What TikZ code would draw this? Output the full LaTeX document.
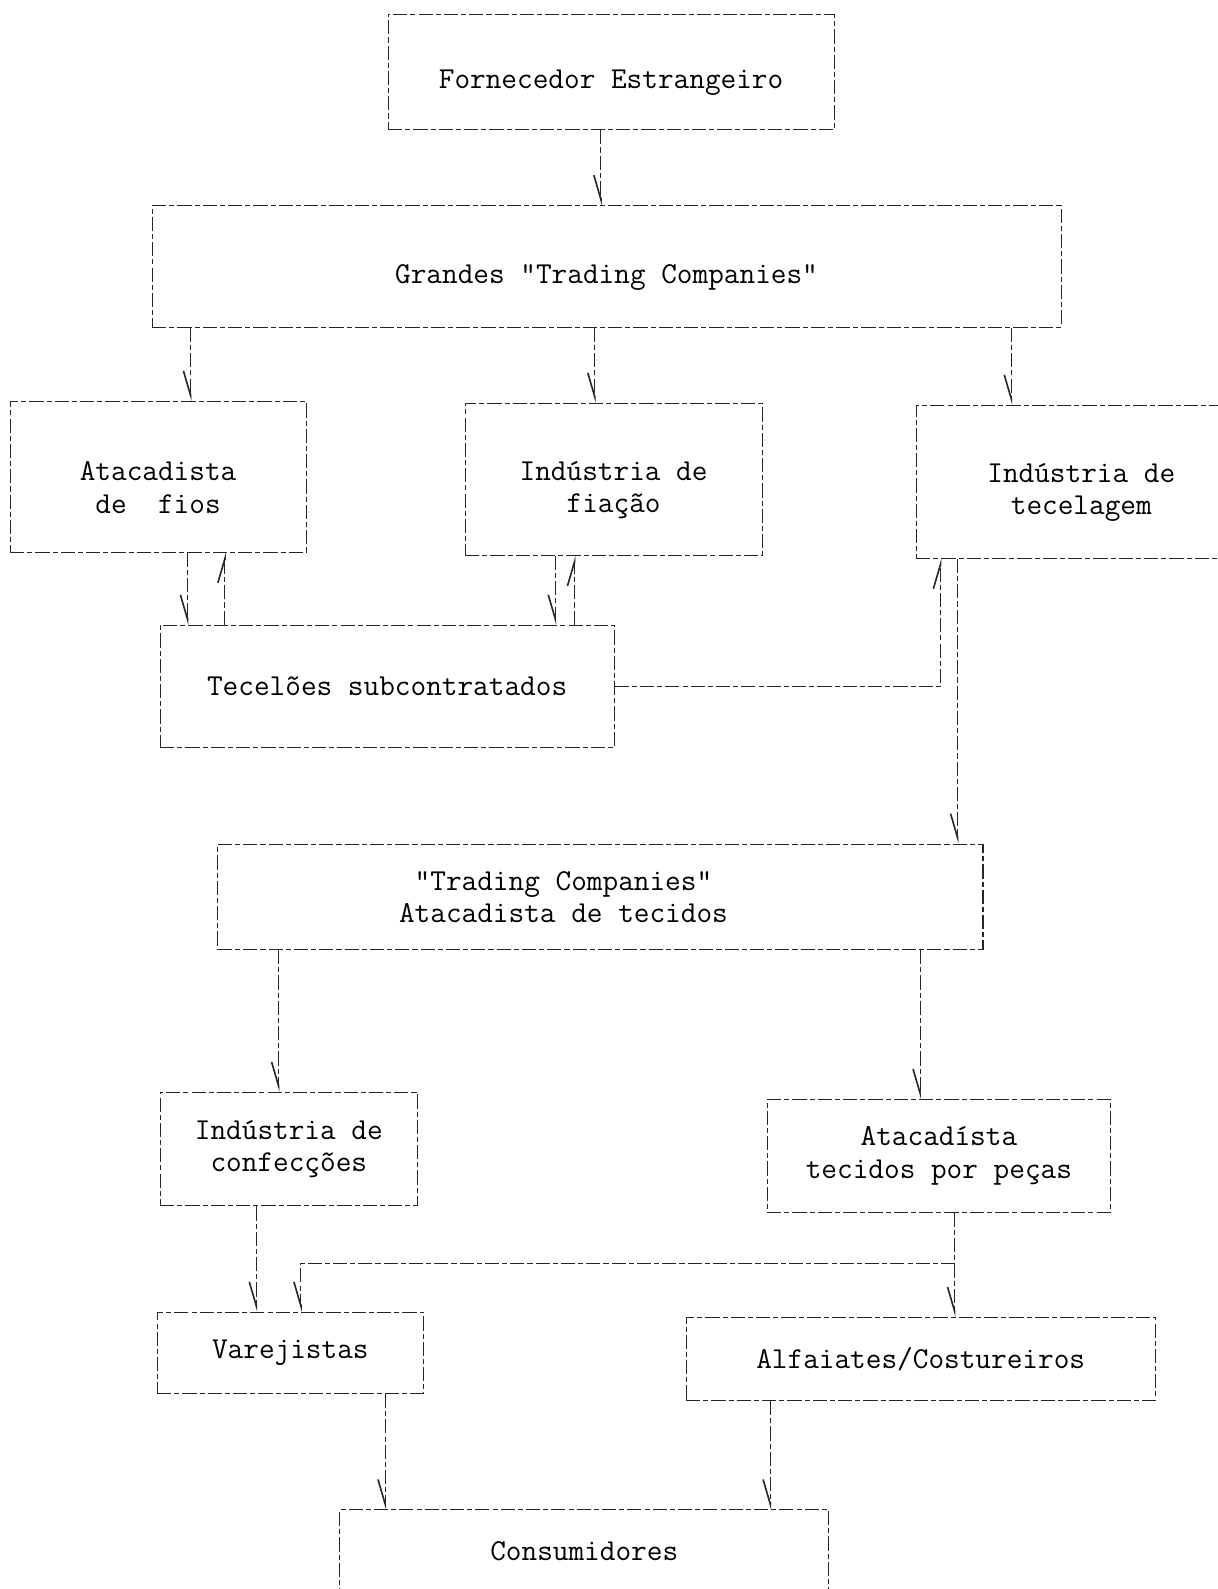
\documentclass[tikz,border=0pt]{standalone}
\usepackage{tikz}
\usetikzlibrary{arrows.meta}

\begin{document}
\begin{tikzpicture}[x=1pt, y=-1pt,
    caixa/.style={rectangle, draw=black!85, line width=1pt, dash pattern=on 14pt off 3pt on 5pt off 3pt,
        inner sep=0pt, align=center, font=\fontsize{30}{32}\selectfont\ttfamily},
    baixo/.style={execute at begin node=\rule{0pt}{40pt}},
    texto/.style={inner sep=0pt, align=center, font=\fontsize{30}{32}\selectfont\ttfamily},
    seta/.style={draw=black!85, line width=1pt, dash pattern=on 14pt off 3pt on 5pt off 3pt,
        -{Straight Barb[harpoon, swap, length=24pt, width=14pt, line width=1.6pt]}},
    setacima/.style={draw=black!85, line width=1pt, dash pattern=on 14pt off 3pt on 5pt off 3pt,
        -{Straight Barb[harpoon, length=24pt, width=14pt, line width=1.6pt]}}]

    \useasboundingbox (0,0) rectangle (1201,1568);

    \node[caixa, baixo, minimum width=440, minimum height=114] (forn) at (603,71) {Fornecedor Estrangeiro};
    \node[caixa, baixo, minimum width=897, minimum height=120] (grandes) at (598.5,263) {Grandes "Trading Companies"};
    \node[caixa, minimum width=292, minimum height=149] (fios) at (156,470.5) {\rule{0pt}{40pt}Atacadista\\de~~fios};
    \node[caixa, minimum width=293, minimum height=150] (fiacao) at (605.5,473) {\rule{0pt}{40pt}Indústria de\\fiação};
    \node[caixa, minimum width=326, minimum height=151] (tecelagem) at (1067,475.5) {\rule{0pt}{40pt}Indústria de\\tecelagem};
    \node[caixa, minimum width=448, minimum height=121] (tecel) at (382,677.5) {Tecelões subcontratados};
    \node[caixa, minimum width=755, minimum height=104] (trad) at (592.5,885) {};
    \node[texto] (tradtxt) at (556,885) {"Trading Companies"\\Atacadista de tecidos};
    \node[caixa, minimum width=254, minimum height=112] (confec) at (285,1134) {Indústria de\\confecções};
    \node[caixa, minimum width=339, minimum height=111] (pecas) at (926.5,1140.5) {Atacadísta\\tecidos por peças};
    \node[caixa, minimum width=263, minimum height=80] (varej) at (286.5,1335) {Varejistas};
    \node[caixa, minimum width=463, minimum height=82] (alfa) at (908.5,1341) {Alfaiates/Costureiros};
    \node[caixa, minimum width=483, minimum height=82] (consum) at (576.5,1531) {Consumidores};

    \coordinate (ramo) at (942,1247);

    \draw[seta] (forn.south -| 593,0) -- (grandes.north -| 593,0);
    \draw[seta] (grandes.south -| 188,0) -- (fios.north -| 188,0);
    \draw[seta] (grandes.south -| 587,0) -- (fiacao.north -| 587,0);
    \draw[seta] (grandes.south -| 998,0) -- (tecelagem.north -| 998,0);
    \draw[seta] (fios.south -| 185,0) -- (tecel.north -| 185,0);
    \draw[setacima] (tecel.north -| 222,0) -- (fios.south -| 222,0);
    \draw[seta] (fiacao.south -| 548,0) -- (tecel.north -| 548,0);
    \draw[setacima] (tecel.north -| 567,0) -- (fiacao.south -| 567,0);
    \draw[setacima] (tecel.east) -- (928,677.5) -- (tecelagem.south -| 928,0);
    \draw[seta] (tecelagem.south -| 945,0) -- (trad.north -| 945,0);
    \draw[seta] (trad.south -| 275,0) -- (confec.north -| 275,0);
    \draw[seta] (trad.south -| 908,0) -- (pecas.north -| 908,0);
    \draw[seta] (confec.south -| 253,0) -- (varej.north -| 253,0);
    \draw[seta] (pecas.south -| ramo) -- (ramo) -- (297,1247) -- (varej.north -| 297,0);
    \draw[seta] (ramo) -- (alfa.north -| ramo);
    \draw[seta] (varej.south -| 380,0) -- (consum.north -| 380,0);
    \draw[seta] (alfa.south -| 760,0) -- (consum.north -| 760,0);

\end{tikzpicture}
\end{document}
